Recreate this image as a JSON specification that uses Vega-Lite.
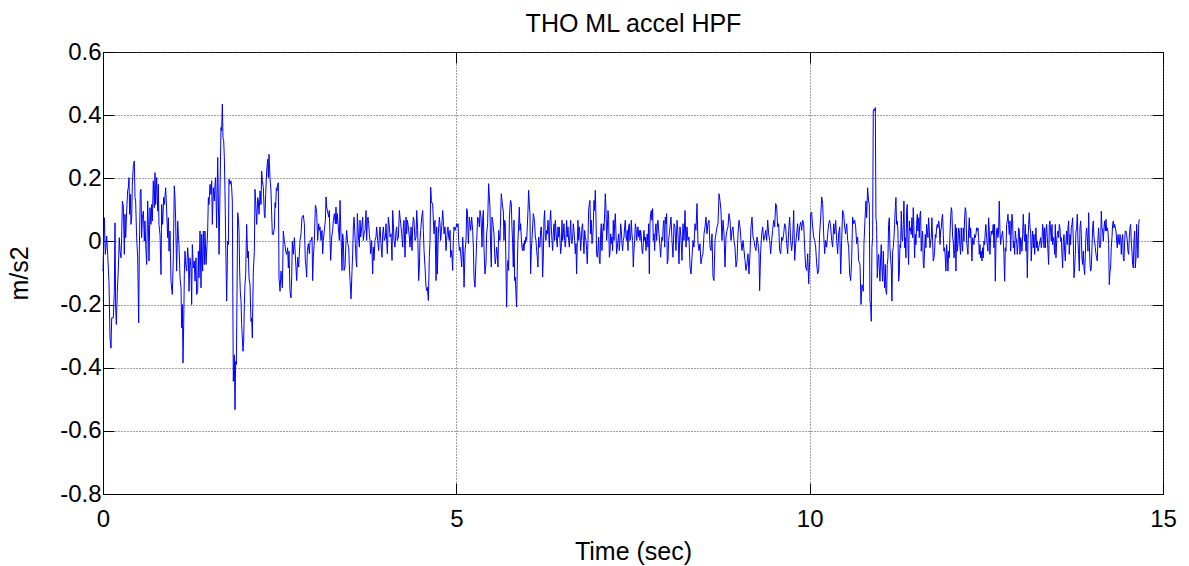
{
"$schema": "https://vega.github.io/schema/vega-lite/v6.json",
"autosize": {"type": "none"},
"padding": {"left": 103, "top": 52, "right": 26, "bottom": 72},
"width": 1060,
"height": 442,
"background": "white",
"config": {"view": {"stroke": "black", "strokeWidth": 1}, "font": "Liberation Sans"},
"data": {"values": [
{"t":0.000,"v":-0.094},{"t":0.019,"v":0.075},{"t":0.033,"v":-0.041},{"t":0.052,"v":0.017},{"t":0.066,"v":-0.041},{"t":0.085,"v":-0.131},{"t":0.099,"v":-0.306},{"t":0.113,"v":-0.338},{"t":0.123,"v":-0.242},{"t":0.146,"v":-0.242},{"t":0.160,"v":-0.158},{"t":0.170,"v":0.059},{"t":0.179,"v":-0.211},{"t":0.189,"v":-0.263},{"t":0.203,"v":-0.158},{"t":0.217,"v":-0.084},{"t":0.231,"v":0.012},{"t":0.241,"v":-0.031},{"t":0.255,"v":-0.052},{"t":0.264,"v":0.012},{"t":0.274,"v":0.128},{"t":0.288,"v":0.112},{"t":0.302,"v":-0.041},{"t":0.311,"v":0.086},{"t":0.321,"v":0.012},{"t":0.335,"v":0.096},{"t":0.349,"v":0.160},{"t":0.358,"v":0.170},{"t":0.368,"v":0.202},{"t":0.377,"v":0.086},{"t":0.387,"v":0.149},{"t":0.396,"v":0.054},{"t":0.406,"v":0.075},{"t":0.415,"v":0.181},{"t":0.429,"v":0.239},{"t":0.443,"v":0.255},{"t":0.453,"v":0.139},{"t":0.462,"v":0.128},{"t":0.476,"v":0.012},{"t":0.491,"v":-0.052},{"t":0.505,"v":-0.258},{"t":0.514,"v":-0.031},{"t":0.528,"v":0.160},{"t":0.538,"v":0.165},{"t":0.547,"v":0.012},{"t":0.557,"v":0.075},{"t":0.571,"v":0.096},{"t":0.585,"v":0.001},{"t":0.594,"v":0.065},{"t":0.604,"v":-0.010},{"t":0.618,"v":-0.073},{"t":0.632,"v":0.128},{"t":0.642,"v":0.054},{"t":0.651,"v":-0.062},{"t":0.665,"v":0.107},{"t":0.679,"v":0.054},{"t":0.689,"v":0.117},{"t":0.698,"v":0.065},{"t":0.712,"v":0.192},{"t":0.726,"v":0.107},{"t":0.736,"v":0.218},{"t":0.745,"v":0.117},{"t":0.759,"v":0.202},{"t":0.774,"v":0.096},{"t":0.783,"v":0.181},{"t":0.792,"v":0.054},{"t":0.807,"v":0.022},{"t":0.821,"v":-0.105},{"t":0.830,"v":0.117},{"t":0.844,"v":0.054},{"t":0.858,"v":0.139},{"t":0.868,"v":0.117},{"t":0.887,"v":0.170},{"t":0.901,"v":0.096},{"t":0.915,"v":0.012},{"t":0.925,"v":0.075},{"t":0.934,"v":-0.031},{"t":0.948,"v":0.033},{"t":0.962,"v":-0.126},{"t":0.981,"v":-0.168},{"t":0.995,"v":-0.052},{"t":1.009,"v":0.176},{"t":1.019,"v":0.139},{"t":1.028,"v":0.065},{"t":1.042,"v":-0.094},{"t":1.057,"v":0.065},{"t":1.066,"v":0.022},{"t":1.075,"v":-0.010},{"t":1.090,"v":-0.115},{"t":1.104,"v":-0.147},{"t":1.113,"v":-0.274},{"t":1.123,"v":-0.200},{"t":1.132,"v":-0.385},{"t":1.142,"v":-0.263},{"t":1.151,"v":-0.105},{"t":1.160,"v":-0.031},{"t":1.170,"v":-0.073},{"t":1.184,"v":-0.094},{"t":1.198,"v":-0.020},{"t":1.208,"v":-0.052},{"t":1.217,"v":-0.158},{"t":1.231,"v":-0.052},{"t":1.245,"v":-0.084},{"t":1.255,"v":-0.200},{"t":1.264,"v":-0.010},{"t":1.278,"v":-0.084},{"t":1.292,"v":-0.062},{"t":1.302,"v":-0.126},{"t":1.316,"v":-0.052},{"t":1.325,"v":-0.168},{"t":1.340,"v":-0.158},{"t":1.349,"v":-0.031},{"t":1.358,"v":-0.115},{"t":1.373,"v":0.033},{"t":1.387,"v":-0.147},{"t":1.396,"v":0.022},{"t":1.410,"v":-0.094},{"t":1.420,"v":0.033},{"t":1.434,"v":-0.073},{"t":1.443,"v":0.033},{"t":1.458,"v":-0.073},{"t":1.472,"v":-0.010},{"t":1.481,"v":0.033},{"t":1.491,"v":0.139},{"t":1.500,"v":0.117},{"t":1.514,"v":0.181},{"t":1.528,"v":0.149},{"t":1.538,"v":0.192},{"t":1.547,"v":0.054},{"t":1.561,"v":0.170},{"t":1.575,"v":0.128},{"t":1.585,"v":0.181},{"t":1.594,"v":0.202},{"t":1.608,"v":0.043},{"t":1.623,"v":0.266},{"t":1.632,"v":0.149},{"t":1.642,"v":-0.041},{"t":1.656,"v":0.160},{"t":1.670,"v":0.361},{"t":1.679,"v":0.350},{"t":1.689,"v":0.435},{"t":1.698,"v":0.329},{"t":1.708,"v":0.319},{"t":1.717,"v":0.266},{"t":1.726,"v":0.160},{"t":1.736,"v":0.001},{"t":1.750,"v":-0.189},{"t":1.764,"v":0.001},{"t":1.774,"v":-0.010},{"t":1.783,"v":0.197},{"t":1.797,"v":0.181},{"t":1.811,"v":0.192},{"t":1.821,"v":0.170},{"t":1.830,"v":0.128},{"t":1.844,"v":-0.443},{"t":1.858,"v":-0.359},{"t":1.868,"v":-0.533},{"t":1.877,"v":-0.380},{"t":1.887,"v":-0.390},{"t":1.896,"v":-0.179},{"t":1.906,"v":0.091},{"t":1.915,"v":0.075},{"t":1.925,"v":0.033},{"t":1.934,"v":-0.094},{"t":1.943,"v":-0.158},{"t":1.953,"v":-0.189},{"t":1.962,"v":-0.263},{"t":1.972,"v":-0.306},{"t":1.981,"v":-0.348},{"t":1.991,"v":-0.316},{"t":2.000,"v":-0.200},{"t":2.009,"v":-0.137},{"t":2.019,"v":-0.105},{"t":2.033,"v":0.054},{"t":2.047,"v":-0.052},{"t":2.057,"v":-0.031},{"t":2.066,"v":-0.115},{"t":2.080,"v":-0.137},{"t":2.094,"v":-0.253},{"t":2.104,"v":-0.242},{"t":2.113,"v":-0.306},{"t":2.127,"v":-0.094},{"t":2.142,"v":-0.031},{"t":2.151,"v":0.165},{"t":2.160,"v":0.128},{"t":2.175,"v":0.054},{"t":2.189,"v":0.139},{"t":2.198,"v":0.128},{"t":2.208,"v":0.086},{"t":2.222,"v":0.160},{"t":2.236,"v":0.117},{"t":2.245,"v":0.223},{"t":2.255,"v":0.192},{"t":2.269,"v":0.170},{"t":2.283,"v":0.086},{"t":2.292,"v":0.075},{"t":2.302,"v":0.149},{"t":2.316,"v":0.223},{"t":2.330,"v":0.260},{"t":2.340,"v":0.202},{"t":2.349,"v":0.276},{"t":2.363,"v":0.202},{"t":2.377,"v":0.160},{"t":2.387,"v":0.086},{"t":2.396,"v":0.022},{"t":2.410,"v":0.022},{"t":2.425,"v":0.043},{"t":2.434,"v":0.123},{"t":2.443,"v":0.107},{"t":2.453,"v":0.170},{"t":2.462,"v":0.160},{"t":2.472,"v":0.181},{"t":2.481,"v":0.186},{"t":2.491,"v":-0.115},{"t":2.505,"v":-0.158},{"t":2.519,"v":-0.094},{"t":2.528,"v":-0.115},{"t":2.538,"v":-0.147},{"t":2.552,"v":0.033},{"t":2.566,"v":0.001},{"t":2.575,"v":-0.010},{"t":2.585,"v":-0.031},{"t":2.599,"v":-0.041},{"t":2.613,"v":-0.020},{"t":2.623,"v":-0.084},{"t":2.632,"v":-0.031},{"t":2.646,"v":-0.158},{"t":2.660,"v":-0.179},{"t":2.670,"v":-0.115},{"t":2.679,"v":0.001},{"t":2.693,"v":-0.041},{"t":2.708,"v":0.012},
{"t":2.741,"v":-0.124},{"t":2.755,"v":-0.050},{"t":2.769,"v":-0.081},{"t":2.788,"v":0.003},{"t":2.802,"v":0.024},{"t":2.816,"v":0.077},{"t":2.835,"v":0.083},{"t":2.849,"v":0.056},{"t":2.863,"v":-0.060},{"t":2.873,"v":-0.081},{"t":2.882,"v":-0.113},{"t":2.892,"v":-0.029},{"t":2.906,"v":-0.007},{"t":2.920,"v":-0.039},{"t":2.930,"v":0.003},{"t":2.944,"v":0.003},{"t":2.958,"v":0.014},{"t":2.967,"v":-0.124},{"t":2.977,"v":-0.050},{"t":2.991,"v":0.003},{"t":3.005,"v":0.114},{"t":3.014,"v":0.109},{"t":3.024,"v":0.088},{"t":3.038,"v":0.003},{"t":3.052,"v":0.056},{"t":3.062,"v":0.035},{"t":3.071,"v":0.046},{"t":3.085,"v":0.003},{"t":3.099,"v":0.035},{"t":3.109,"v":-0.039},{"t":3.118,"v":0.003},{"t":3.132,"v":0.035},{"t":3.147,"v":0.067},{"t":3.156,"v":0.141},{"t":3.165,"v":0.109},{"t":3.180,"v":0.093},{"t":3.194,"v":0.077},{"t":3.203,"v":0.098},{"t":3.213,"v":0.003},{"t":3.222,"v":-0.060},{"t":3.236,"v":0.014},{"t":3.250,"v":0.035},{"t":3.260,"v":0.067},{"t":3.274,"v":0.088},{"t":3.288,"v":0.056},{"t":3.297,"v":0.109},{"t":3.307,"v":0.056},{"t":3.316,"v":0.088},{"t":3.330,"v":0.046},{"t":3.345,"v":0.003},{"t":3.354,"v":0.130},{"t":3.363,"v":0.056},{"t":3.373,"v":-0.018},{"t":3.382,"v":-0.092},{"t":3.392,"v":0.024},{"t":3.401,"v":0.003},{"t":3.411,"v":-0.092},{"t":3.425,"v":-0.081},{"t":3.439,"v":0.003},{"t":3.448,"v":0.035},{"t":3.463,"v":-0.007},{"t":3.477,"v":-0.018},{"t":3.486,"v":-0.081},{"t":3.496,"v":-0.124},{"t":3.510,"v":-0.182},{"t":3.524,"v":-0.092},{"t":3.533,"v":-0.039},{"t":3.543,"v":0.046},{"t":3.552,"v":0.077},{"t":3.562,"v":0.035},{"t":3.571,"v":-0.007},{"t":3.581,"v":-0.060},{"t":3.590,"v":-0.081},{"t":3.599,"v":0.088},{"t":3.609,"v":0.046},{"t":3.618,"v":0.003},{"t":3.628,"v":-0.018},{"t":3.637,"v":0.067},{"t":3.647,"v":0.014},{"t":3.661,"v":0.046},{"t":3.675,"v":0.077},{"t":3.684,"v":0.003},{"t":3.694,"v":0.024},{"t":3.708,"v":0.035},{"t":3.722,"v":0.098},{"t":3.731,"v":0.003},{"t":3.741,"v":0.067},{"t":3.750,"v":0.077},{"t":3.760,"v":0.056},{"t":3.769,"v":0.024},{"t":3.778,"v":0.003},{"t":3.788,"v":-0.039},{"t":3.802,"v":0.003},{"t":3.816,"v":-0.103},{"t":3.826,"v":-0.018},{"t":3.835,"v":-0.060},{"t":3.849,"v":0.003},{"t":3.863,"v":0.014},{"t":3.873,"v":0.046},{"t":3.887,"v":0.003},{"t":3.901,"v":-0.029},{"t":3.911,"v":0.024},{"t":3.920,"v":0.046},{"t":3.934,"v":-0.007},{"t":3.948,"v":-0.050},{"t":3.958,"v":0.024},{"t":3.967,"v":0.046},{"t":3.981,"v":0.003},{"t":3.996,"v":0.014},{"t":4.005,"v":0.056},{"t":4.014,"v":0.003},{"t":4.024,"v":-0.039},{"t":4.038,"v":0.077},{"t":4.052,"v":0.046},{"t":4.062,"v":0.014},{"t":4.076,"v":0.024},{"t":4.090,"v":-0.060},{"t":4.099,"v":0.098},{"t":4.109,"v":0.056},{"t":4.118,"v":0.003},{"t":4.132,"v":-0.018},{"t":4.147,"v":0.035},{"t":4.156,"v":0.046},{"t":4.165,"v":0.003},{"t":4.180,"v":0.014},{"t":4.194,"v":0.098},{"t":4.203,"v":0.077},{"t":4.213,"v":0.056},{"t":4.227,"v":0.024},{"t":4.241,"v":-0.018},{"t":4.250,"v":0.046},{"t":4.260,"v":0.067},{"t":4.274,"v":-0.050},{"t":4.288,"v":0.077},{"t":4.297,"v":0.024},{"t":4.307,"v":0.067},{"t":4.321,"v":0.046},{"t":4.335,"v":0.014},{"t":4.345,"v":-0.018},{"t":4.359,"v":0.046},{"t":4.373,"v":-0.029},{"t":4.382,"v":0.046},{"t":4.392,"v":0.077},{"t":4.401,"v":0.067},{"t":4.415,"v":0.003},{"t":4.430,"v":0.014},{"t":4.439,"v":0.098},{"t":4.453,"v":0.035},{"t":4.467,"v":-0.124},{"t":4.477,"v":-0.081},{"t":4.486,"v":0.003},{"t":4.496,"v":0.035},{"t":4.510,"v":0.077},{"t":4.524,"v":0.098},{"t":4.533,"v":0.035},{"t":4.543,"v":-0.029},{"t":4.557,"v":-0.081},{"t":4.571,"v":-0.145},{"t":4.581,"v":-0.156},{"t":4.590,"v":-0.145},{"t":4.604,"v":-0.187},{"t":4.618,"v":-0.050},{"t":4.628,"v":0.003},{"t":4.637,"v":0.172},{"t":4.647,"v":0.130},{"t":4.656,"v":0.120},{"t":4.665,"v":0.120},{"t":4.675,"v":0.067},{"t":4.684,"v":0.024},{"t":4.698,"v":0.067},{"t":4.713,"v":-0.124},{"t":4.722,"v":0.046},{"t":4.731,"v":-0.103},{"t":4.745,"v":0.024},{"t":4.760,"v":0.077},{"t":4.769,"v":0.056},{"t":4.778,"v":0.003},{"t":4.793,"v":0.046},{"t":4.807,"v":0.098},{"t":4.816,"v":0.067},{"t":4.826,"v":0.024},{"t":4.840,"v":0.046},{"t":4.854,"v":-0.029},{"t":4.863,"v":0.003},{"t":4.873,"v":0.035},{"t":4.882,"v":0.046},{"t":4.892,"v":0.014},{"t":4.901,"v":0.003},{"t":4.911,"v":0.035},{"t":4.920,"v":-0.050},{"t":4.934,"v":-0.029},{"t":4.948,"v":-0.092},{"t":4.958,"v":0.003},{"t":4.967,"v":0.046},{"t":4.981,"v":0.035},{"t":4.996,"v":0.046},{"t":5.005,"v":0.056},{"t":5.014,"v":0.046},{"t":5.024,"v":0.056},{"t":5.033,"v":0.003},{"t":5.043,"v":-0.029},{"t":5.052,"v":-0.018},{"t":5.062,"v":-0.039},{"t":5.076,"v":-0.081},{"t":5.090,"v":0.014},{"t":5.099,"v":-0.029},{"t":5.109,"v":-0.145},{"t":5.123,"v":-0.029},{"t":5.137,"v":0.003},{"t":5.147,"v":0.104},{"t":5.156,"v":0.098},{"t":5.170,"v":-0.007},{"t":5.184,"v":0.077},{"t":5.194,"v":0.056},{"t":5.203,"v":0.035},{"t":5.217,"v":0.077},{"t":5.231,"v":0.035},{"t":5.241,"v":-0.018},{"t":5.250,"v":-0.113},{"t":5.264,"v":-0.145},{"t":5.278,"v":-0.060},{"t":5.288,"v":0.003},{"t":5.302,"v":0.077},{"t":5.316,"v":0.067},{"t":5.326,"v":0.046},
{"t":5.335,"v":0.098},{"t":5.349,"v":0.077},{"t":5.363,"v":-0.018},{"t":5.372,"v":0.067},{"t":5.382,"v":0.098},{"t":5.391,"v":-0.018},{"t":5.405,"v":-0.103},{"t":5.419,"v":-0.071},{"t":5.429,"v":0.024},{"t":5.443,"v":0.056},{"t":5.457,"v":0.183},{"t":5.467,"v":0.141},{"t":5.476,"v":0.109},{"t":5.485,"v":-0.018},{"t":5.495,"v":-0.081},{"t":5.504,"v":0.077},{"t":5.514,"v":0.067},{"t":5.523,"v":0.046},{"t":5.533,"v":0.024},{"t":5.542,"v":-0.039},{"t":5.551,"v":-0.071},{"t":5.561,"v":-0.050},{"t":5.570,"v":-0.018},{"t":5.580,"v":-0.039},{"t":5.589,"v":-0.081},{"t":5.599,"v":0.035},{"t":5.608,"v":0.014},{"t":5.618,"v":0.003},{"t":5.627,"v":0.077},{"t":5.636,"v":0.151},{"t":5.646,"v":0.130},{"t":5.655,"v":0.109},{"t":5.665,"v":0.098},{"t":5.674,"v":0.003},{"t":5.684,"v":0.067},{"t":5.693,"v":0.056},{"t":5.702,"v":-0.081},{"t":5.712,"v":-0.208},{"t":5.721,"v":-0.081},{"t":5.731,"v":-0.060},{"t":5.740,"v":-0.092},{"t":5.750,"v":0.067},{"t":5.759,"v":0.109},{"t":5.768,"v":0.130},{"t":5.778,"v":0.120},{"t":5.787,"v":0.046},{"t":5.797,"v":-0.007},{"t":5.806,"v":-0.081},{"t":5.816,"v":0.067},{"t":5.825,"v":-0.124},{"t":5.835,"v":-0.113},{"t":5.844,"v":-0.166},{"t":5.853,"v":-0.208},{"t":5.863,"v":-0.081},{"t":5.872,"v":0.003},{"t":5.882,"v":0.056},{"t":5.891,"v":0.109},{"t":5.901,"v":0.035},{"t":5.910,"v":0.056},{"t":5.919,"v":0.014},{"t":5.929,"v":-0.018},{"t":5.938,"v":-0.029},{"t":5.948,"v":-0.007},{"t":5.957,"v":-0.029},{"t":5.967,"v":0.003},{"t":5.976,"v":-0.007},{"t":5.985,"v":0.014},{"t":5.995,"v":0.003},{"t":6.004,"v":0.046},{"t":6.014,"v":0.098},{"t":6.023,"v":0.162},{"t":6.033,"v":0.120},{"t":6.042,"v":0.088},{"t":6.051,"v":-0.103},{"t":6.061,"v":-0.029},{"t":6.070,"v":0.003},{"t":6.080,"v":0.046},{"t":6.089,"v":0.088},{"t":6.099,"v":0.077},{"t":6.108,"v":0.056},{"t":6.118,"v":0.014},{"t":6.127,"v":0.003},{"t":6.136,"v":-0.029},{"t":6.146,"v":-0.050},{"t":6.155,"v":-0.081},{"t":6.165,"v":0.014},{"t":6.174,"v":-0.018},{"t":6.184,"v":-0.018},{"t":6.193,"v":0.035},{"t":6.202,"v":0.046},{"t":6.212,"v":0.003},{"t":6.221,"v":-0.113},{"t":6.231,"v":-0.050},{"t":6.240,"v":0.067},{"t":6.250,"v":0.098},{"t":6.259,"v":0.014},{"t":6.268,"v":0.003},{"t":6.278,"v":0.035},{"t":6.287,"v":0.024},{"t":6.297,"v":0.067},{"t":6.306,"v":0.035},{"t":6.316,"v":-0.018},{"t":6.325,"v":0.067},{"t":6.335,"v":0.098},{"t":6.344,"v":0.046},{"t":6.353,"v":0.003},{"t":6.363,"v":-0.029},{"t":6.372,"v":0.024},{"t":6.382,"v":0.056},{"t":6.391,"v":0.003},{"t":6.401,"v":0.067},{"t":6.410,"v":0.035},{"t":6.419,"v":0.003},{"t":6.429,"v":-0.018},{"t":6.438,"v":0.046},{"t":6.448,"v":0.014},{"t":6.457,"v":0.046},{"t":6.467,"v":0.003},{"t":6.476,"v":-0.039},{"t":6.485,"v":-0.018},{"t":6.495,"v":0.067},{"t":6.504,"v":0.003},{"t":6.514,"v":0.024},{"t":6.523,"v":0.056},{"t":6.533,"v":0.003},{"t":6.542,"v":-0.018},{"t":6.552,"v":0.014},{"t":6.561,"v":0.067},{"t":6.570,"v":0.014},{"t":6.580,"v":0.046},{"t":6.589,"v":0.003},{"t":6.599,"v":-0.018},{"t":6.608,"v":0.024},{"t":6.618,"v":0.067},{"t":6.627,"v":0.003},{"t":6.636,"v":-0.007},{"t":6.646,"v":0.014},{"t":6.655,"v":0.056},{"t":6.665,"v":0.035},{"t":6.674,"v":0.003},{"t":6.684,"v":-0.039},{"t":6.693,"v":-0.007},{"t":6.702,"v":-0.103},{"t":6.712,"v":0.003},{"t":6.721,"v":0.067},{"t":6.731,"v":0.003},{"t":6.740,"v":0.046},{"t":6.750,"v":0.024},{"t":6.759,"v":-0.029},{"t":6.768,"v":0.003},{"t":6.778,"v":0.046},{"t":6.787,"v":0.056},{"t":6.797,"v":0.003},{"t":6.806,"v":-0.039},{"t":6.816,"v":0.035},{"t":6.825,"v":0.014},{"t":6.835,"v":0.003},{"t":6.844,"v":-0.029},{"t":6.853,"v":-0.071},{"t":6.863,"v":0.003},{"t":6.872,"v":0.098},{"t":6.882,"v":0.120},{"t":6.891,"v":0.130},{"t":6.901,"v":0.024},{"t":6.910,"v":0.067},{"t":6.919,"v":-0.007},{"t":6.929,"v":0.003},{"t":6.938,"v":0.056},{"t":6.948,"v":0.130},{"t":6.957,"v":0.098},{"t":6.967,"v":0.162},{"t":6.976,"v":0.077},{"t":6.985,"v":-0.039},{"t":6.995,"v":-0.050},{"t":7.004,"v":-0.029},{"t":7.014,"v":0.014},{"t":7.023,"v":-0.060},{"t":7.033,"v":-0.071},{"t":7.042,"v":0.024},{"t":7.051,"v":0.056},{"t":7.061,"v":-0.029},{"t":7.070,"v":0.024},{"t":7.080,"v":0.056},{"t":7.089,"v":0.035},{"t":7.099,"v":0.088},{"t":7.108,"v":0.151},{"t":7.117,"v":0.109},{"t":7.127,"v":0.003},{"t":7.136,"v":0.035},{"t":7.146,"v":0.098},{"t":7.155,"v":0.077},{"t":7.165,"v":-0.050},{"t":7.174,"v":-0.039},{"t":7.184,"v":0.024},{"t":7.193,"v":-0.007},{"t":7.202,"v":0.014},{"t":7.212,"v":-0.029},{"t":7.221,"v":0.067},{"t":7.231,"v":0.003},{"t":7.240,"v":0.056},{"t":7.250,"v":0.088},{"t":7.259,"v":0.024},{"t":7.268,"v":-0.039},{"t":7.278,"v":-0.018},{"t":7.287,"v":0.003},{"t":7.297,"v":0.024},{"t":7.306,"v":-0.029},{"t":7.316,"v":0.003},{"t":7.325,"v":0.056},{"t":7.335,"v":0.035},{"t":7.344,"v":-0.007},{"t":7.353,"v":-0.029},{"t":7.363,"v":0.003},{"t":7.372,"v":0.014},{"t":7.382,"v":0.046},{"t":7.391,"v":0.067},{"t":7.401,"v":0.014},{"t":7.410,"v":0.003},{"t":7.419,"v":0.035},{"t":7.429,"v":-0.029},{"t":7.438,"v":0.046},{"t":7.448,"v":0.056},{"t":7.457,"v":0.003},{"t":7.467,"v":0.014},{"t":7.476,"v":0.067},{"t":7.485,"v":0.024},{"t":7.495,"v":0.003},{"t":7.504,"v":-0.081},{"t":7.514,"v":-0.029},{"t":7.523,"v":0.003},{"t":7.533,"v":0.056},{"t":7.542,"v":0.046},{"t":7.552,"v":0.003},{"t":7.561,"v":0.024},{"t":7.570,"v":0.046},{"t":7.580,"v":0.014},{"t":7.589,"v":0.035},{"t":7.599,"v":0.003},{"t":7.608,"v":0.035},{"t":7.618,"v":0.014},{"t":7.627,"v":-0.029},{"t":7.636,"v":-0.039},{"t":7.646,"v":-0.007},{"t":7.655,"v":0.035},{"t":7.665,"v":0.003},{"t":7.674,"v":0.014},{"t":7.684,"v":-0.029},{"t":7.693,"v":0.003},{"t":7.702,"v":0.024},{"t":7.712,"v":-0.018},{"t":7.721,"v":0.056},{"t":7.731,"v":-0.103},{"t":7.740,"v":0.056},{"t":7.750,"v":0.088},{"t":7.759,"v":0.098},{"t":7.768,"v":0.067},{"t":7.778,"v":0.104},{"t":7.787,"v":0.003},{"t":7.797,"v":0.024},{"t":7.806,"v":-0.029},{"t":7.816,"v":0.035},{"t":7.825,"v":0.056},{"t":7.835,"v":0.003},{"t":7.844,"v":0.046},{"t":7.853,"v":0.067},{"t":7.863,"v":0.035},{"t":7.872,"v":0.014},{"t":7.882,"v":-0.018},{"t":7.891,"v":-0.050},{"t":7.901,"v":-0.007},{"t":7.910,"v":0.014},{"t":7.919,"v":0.003},{"t":7.929,"v":0.056},{"t":7.938,"v":0.067},{"t":7.948,"v":-0.018},{"t":7.957,"v":0.077},{"t":7.967,"v":0.056},{"t":7.976,"v":0.088},{"t":7.985,"v":-0.071},{"t":7.995,"v":-0.060},{"t":8.004,"v":0.003},{"t":8.014,"v":0.024},
{"t":8.024,"v":0.046},{"t":8.038,"v":0.077},{"t":8.052,"v":0.003},{"t":8.066,"v":-0.050},{"t":8.080,"v":0.056},{"t":8.094,"v":0.046},{"t":8.108,"v":-0.029},{"t":8.123,"v":0.067},{"t":8.137,"v":0.024},{"t":8.151,"v":-0.071},{"t":8.165,"v":0.046},{"t":8.179,"v":0.014},{"t":8.193,"v":-0.060},{"t":8.207,"v":0.056},{"t":8.222,"v":0.003},{"t":8.236,"v":0.098},{"t":8.250,"v":-0.018},{"t":8.264,"v":0.046},{"t":8.278,"v":0.003},{"t":8.292,"v":0.014},{"t":8.307,"v":-0.081},{"t":8.321,"v":-0.103},{"t":8.335,"v":-0.050},{"t":8.349,"v":0.003},{"t":8.363,"v":-0.018},{"t":8.377,"v":0.056},{"t":8.391,"v":0.035},{"t":8.406,"v":0.120},{"t":8.420,"v":-0.007},{"t":8.434,"v":-0.029},{"t":8.448,"v":-0.007},{"t":8.462,"v":-0.071},{"t":8.476,"v":-0.050},{"t":8.490,"v":-0.039},{"t":8.505,"v":0.024},{"t":8.519,"v":0.046},{"t":8.533,"v":0.077},{"t":8.547,"v":0.024},{"t":8.561,"v":0.056},{"t":8.575,"v":0.067},{"t":8.590,"v":-0.018},{"t":8.604,"v":-0.029},{"t":8.618,"v":0.024},{"t":8.632,"v":-0.113},{"t":8.646,"v":-0.124},{"t":8.660,"v":0.003},{"t":8.674,"v":0.024},{"t":8.689,"v":0.046},{"t":8.703,"v":0.056},{"t":8.717,"v":0.151},{"t":8.731,"v":0.130},{"t":8.745,"v":0.098},{"t":8.759,"v":0.003},{"t":8.774,"v":0.067},{"t":8.788,"v":0.024},{"t":8.802,"v":-0.081},{"t":8.816,"v":0.014},{"t":8.830,"v":0.035},{"t":8.844,"v":0.046},{"t":8.858,"v":0.088},{"t":8.873,"v":0.067},{"t":8.887,"v":0.003},{"t":8.901,"v":0.035},{"t":8.915,"v":0.046},{"t":8.929,"v":0.003},{"t":8.943,"v":-0.018},{"t":8.958,"v":-0.081},{"t":8.972,"v":-0.060},{"t":8.986,"v":0.024},{"t":9.000,"v":0.067},{"t":9.014,"v":0.046},{"t":9.028,"v":0.003},{"t":9.042,"v":-0.029},{"t":9.057,"v":0.003},{"t":9.071,"v":-0.029},{"t":9.085,"v":-0.060},{"t":9.099,"v":-0.092},{"t":9.113,"v":-0.071},{"t":9.127,"v":-0.039},{"t":9.141,"v":-0.103},{"t":9.156,"v":-0.039},{"t":9.170,"v":0.046},{"t":9.184,"v":0.077},{"t":9.198,"v":0.014},{"t":9.212,"v":0.003},{"t":9.226,"v":-0.018},{"t":9.240,"v":-0.029},{"t":9.255,"v":0.014},{"t":9.269,"v":-0.007},{"t":9.283,"v":-0.039},{"t":9.292,"v":-0.156},{"t":9.307,"v":-0.029},{"t":9.321,"v":0.024},{"t":9.335,"v":0.046},{"t":9.349,"v":0.003},{"t":9.363,"v":0.014},{"t":9.377,"v":0.035},{"t":9.391,"v":0.003},{"t":9.406,"v":0.067},{"t":9.420,"v":0.024},{"t":9.434,"v":0.003},{"t":9.448,"v":-0.039},{"t":9.462,"v":0.003},{"t":9.476,"v":0.035},{"t":9.491,"v":0.067},{"t":9.505,"v":0.046},{"t":9.519,"v":0.120},{"t":9.533,"v":0.109},{"t":9.547,"v":0.046},{"t":9.561,"v":0.056},{"t":9.575,"v":-0.029},{"t":9.590,"v":-0.039},{"t":9.604,"v":0.014},{"t":9.618,"v":0.003},{"t":9.632,"v":0.024},{"t":9.646,"v":0.056},{"t":9.660,"v":0.046},{"t":9.675,"v":-0.007},{"t":9.689,"v":-0.039},{"t":9.703,"v":0.035},{"t":9.717,"v":0.077},{"t":9.731,"v":0.003},{"t":9.745,"v":-0.029},{"t":9.759,"v":0.003},{"t":9.774,"v":0.098},{"t":9.788,"v":-0.060},{"t":9.802,"v":-0.007},{"t":9.816,"v":0.024},{"t":9.830,"v":0.056},{"t":9.844,"v":0.003},{"t":9.858,"v":0.046},{"t":9.873,"v":0.061},{"t":9.887,"v":0.035},{"t":9.901,"v":0.067},{"t":9.915,"v":0.056},{"t":9.929,"v":-0.018},{"t":9.943,"v":-0.081},{"t":9.958,"v":-0.092},{"t":9.972,"v":-0.039},{"t":9.986,"v":-0.134},{"t":10.000,"v":-0.060},{"t":10.014,"v":0.088},{"t":10.028,"v":0.093},{"t":10.042,"v":0.046},{"t":10.057,"v":0.014},{"t":10.071,"v":0.003},{"t":10.085,"v":-0.018},{"t":10.099,"v":-0.071},{"t":10.113,"v":-0.103},{"t":10.127,"v":-0.092},{"t":10.141,"v":0.024},{"t":10.156,"v":0.077},{"t":10.170,"v":0.141},{"t":10.184,"v":0.120},{"t":10.198,"v":0.024},{"t":10.212,"v":-0.039},{"t":10.226,"v":0.003},{"t":10.241,"v":-0.018},{"t":10.255,"v":0.024},{"t":10.269,"v":0.056},{"t":10.283,"v":0.067},{"t":10.297,"v":0.046},{"t":10.311,"v":0.003},{"t":10.325,"v":-0.018},{"t":10.340,"v":0.056},{"t":10.354,"v":0.024},{"t":10.368,"v":0.067},{"t":10.382,"v":0.003},{"t":10.396,"v":-0.039},{"t":10.410,"v":0.024},{"t":10.425,"v":0.046},{"t":10.439,"v":-0.103},{"t":10.453,"v":0.003},{"t":10.467,"v":0.098},{"t":10.481,"v":0.088},{"t":10.495,"v":0.046},{"t":10.509,"v":0.024},{"t":10.524,"v":0.056},{"t":10.538,"v":0.003},{"t":10.552,"v":-0.018},{"t":10.566,"v":-0.103},{"t":10.580,"v":-0.124},{"t":10.594,"v":-0.060},{"t":10.608,"v":0.077},{"t":10.623,"v":0.056},{"t":10.637,"v":0.067},{"t":10.651,"v":0.046},{"t":10.665,"v":-0.007},{"t":10.679,"v":0.014},{"t":10.693,"v":-0.060},{"t":10.708,"v":-0.071},
{"t":10.712,"v":-0.073},{"t":10.726,"v":-0.200},{"t":10.740,"v":-0.137},{"t":10.759,"v":-0.158},{"t":10.768,"v":-0.010},{"t":10.782,"v":0.065},{"t":10.796,"v":0.128},{"t":10.806,"v":0.075},{"t":10.820,"v":0.170},{"t":10.834,"v":0.128},{"t":10.844,"v":0.117},{"t":10.853,"v":-0.189},{"t":10.862,"v":-0.200},{"t":10.872,"v":-0.253},{"t":10.881,"v":-0.020},{"t":10.891,"v":0.012},{"t":10.900,"v":0.414},{"t":10.910,"v":0.419},{"t":10.919,"v":0.414},{"t":10.929,"v":0.424},{"t":10.938,"v":0.075},{"t":10.947,"v":0.054},{"t":10.957,"v":-0.115},{"t":10.966,"v":-0.062},{"t":10.976,"v":-0.041},{"t":10.985,"v":-0.084},{"t":10.995,"v":-0.126},{"t":11.004,"v":-0.052},{"t":11.013,"v":-0.010},{"t":11.023,"v":-0.084},{"t":11.032,"v":-0.126},{"t":11.042,"v":-0.031},{"t":11.051,"v":-0.094},{"t":11.061,"v":-0.147},{"t":11.070,"v":-0.073},{"t":11.079,"v":-0.158},{"t":11.089,"v":-0.168},{"t":11.098,"v":-0.073},{"t":11.108,"v":-0.052},{"t":11.117,"v":0.054},{"t":11.127,"v":0.075},{"t":11.136,"v":-0.020},{"t":11.145,"v":-0.052},{"t":11.155,"v":-0.084},{"t":11.164,"v":-0.189},{"t":11.174,"v":-0.031},{"t":11.183,"v":-0.020},{"t":11.193,"v":0.012},{"t":11.202,"v":0.054},{"t":11.212,"v":0.107},{"t":11.221,"v":0.139},{"t":11.230,"v":0.054},{"t":11.240,"v":0.065},{"t":11.249,"v":0.033},{"t":11.259,"v":-0.126},{"t":11.268,"v":-0.105},{"t":11.278,"v":-0.010},{"t":11.287,"v":-0.020},{"t":11.296,"v":0.096},{"t":11.306,"v":0.012},{"t":11.315,"v":0.001},{"t":11.325,"v":0.054},{"t":11.334,"v":0.128},{"t":11.344,"v":-0.020},{"t":11.353,"v":0.012},{"t":11.362,"v":-0.052},{"t":11.372,"v":0.096},{"t":11.381,"v":0.117},{"t":11.391,"v":-0.010},{"t":11.400,"v":-0.073},{"t":11.410,"v":0.065},{"t":11.419,"v":0.033},{"t":11.428,"v":0.043},{"t":11.438,"v":0.022},{"t":11.447,"v":0.075},{"t":11.457,"v":0.012},{"t":11.466,"v":0.107},{"t":11.476,"v":0.033},{"t":11.485,"v":-0.052},{"t":11.495,"v":0.022},{"t":11.504,"v":-0.010},{"t":11.513,"v":0.054},{"t":11.523,"v":0.086},{"t":11.532,"v":0.033},{"t":11.542,"v":0.075},{"t":11.551,"v":0.012},{"t":11.561,"v":0.086},{"t":11.570,"v":0.096},{"t":11.579,"v":-0.031},{"t":11.589,"v":0.012},{"t":11.598,"v":0.033},{"t":11.608,"v":-0.073},{"t":11.617,"v":-0.084},{"t":11.627,"v":-0.020},{"t":11.636,"v":0.022},{"t":11.645,"v":-0.020},{"t":11.655,"v":0.054},{"t":11.664,"v":0.033},{"t":11.674,"v":0.012},{"t":11.683,"v":0.075},{"t":11.693,"v":0.033},{"t":11.702,"v":-0.020},{"t":11.712,"v":0.001},{"t":11.721,"v":0.012},{"t":11.730,"v":0.075},{"t":11.740,"v":0.001},{"t":11.749,"v":-0.062},{"t":11.759,"v":-0.052},{"t":11.768,"v":-0.031},{"t":11.778,"v":0.022},{"t":11.787,"v":0.012},{"t":11.796,"v":0.043},{"t":11.806,"v":0.054},{"t":11.815,"v":0.043},{"t":11.825,"v":0.065},{"t":11.834,"v":0.054},{"t":11.844,"v":-0.010},{"t":11.853,"v":0.033},{"t":11.862,"v":0.043},{"t":11.872,"v":0.075},{"t":11.881,"v":0.086},{"t":11.891,"v":0.022},{"t":11.900,"v":-0.031},{"t":11.910,"v":-0.020},{"t":11.919,"v":-0.052},{"t":11.928,"v":-0.094},{"t":11.938,"v":-0.010},{"t":11.947,"v":-0.041},{"t":11.957,"v":-0.094},{"t":11.966,"v":-0.031},{"t":11.976,"v":-0.052},{"t":11.985,"v":0.022},{"t":11.995,"v":0.075},{"t":12.004,"v":0.107},{"t":12.013,"v":0.096},{"t":12.023,"v":0.012},{"t":12.032,"v":0.001},{"t":12.042,"v":-0.052},{"t":12.051,"v":-0.041},{"t":12.061,"v":0.054},{"t":12.070,"v":-0.094},{"t":12.079,"v":0.043},{"t":12.089,"v":-0.031},{"t":12.098,"v":-0.010},{"t":12.108,"v":0.043},{"t":12.117,"v":0.033},{"t":12.127,"v":-0.020},{"t":12.136,"v":-0.041},{"t":12.145,"v":0.043},{"t":12.155,"v":-0.010},{"t":12.164,"v":-0.031},{"t":12.174,"v":0.043},{"t":12.183,"v":0.001},{"t":12.193,"v":0.075},{"t":12.202,"v":0.107},{"t":12.212,"v":0.096},{"t":12.221,"v":0.001},{"t":12.230,"v":-0.020},{"t":12.240,"v":-0.041},{"t":12.249,"v":0.033},{"t":12.259,"v":0.075},{"t":12.268,"v":0.012},{"t":12.278,"v":0.043},{"t":12.287,"v":0.001},{"t":12.296,"v":-0.062},{"t":12.306,"v":0.012},{"t":12.315,"v":0.001},{"t":12.325,"v":-0.010},{"t":12.334,"v":0.022},{"t":12.344,"v":0.012},{"t":12.353,"v":0.022},{"t":12.362,"v":0.043},{"t":12.372,"v":0.033},{"t":12.381,"v":0.043},{"t":12.391,"v":0.012},{"t":12.400,"v":-0.041},{"t":12.410,"v":-0.010},{"t":12.419,"v":-0.052},{"t":12.428,"v":-0.031},{"t":12.438,"v":-0.062},{"t":12.447,"v":-0.020},{"t":12.457,"v":-0.052},{"t":12.466,"v":0.001},{"t":12.476,"v":-0.010},{"t":12.485,"v":0.033},{"t":12.494,"v":0.054},{"t":12.504,"v":0.012},{"t":12.513,"v":-0.010},{"t":12.523,"v":-0.031},{"t":12.532,"v":0.075},{"t":12.542,"v":0.033},{"t":12.551,"v":-0.041},{"t":12.561,"v":0.012},{"t":12.570,"v":0.033},{"t":12.579,"v":0.022},{"t":12.589,"v":0.033},{"t":12.598,"v":0.054},{"t":12.608,"v":-0.020},{"t":12.617,"v":0.054},{"t":12.627,"v":-0.126},{"t":12.636,"v":-0.010},{"t":12.645,"v":0.033},{"t":12.655,"v":0.043},{"t":12.664,"v":0.012},{"t":12.674,"v":0.033},{"t":12.683,"v":0.128},{"t":12.693,"v":0.033},{"t":12.702,"v":-0.010},{"t":12.712,"v":0.012},{"t":12.721,"v":0.022},{"t":12.730,"v":0.033},{"t":12.740,"v":0.001},{"t":12.749,"v":-0.041},{"t":12.759,"v":-0.126},{"t":12.768,"v":-0.020},{"t":12.778,"v":-0.031},{"t":12.787,"v":0.054},{"t":12.796,"v":0.065},{"t":12.806,"v":0.086},{"t":12.815,"v":0.054},{"t":12.825,"v":0.022},
{"t":12.835,"v":0.065},{"t":12.844,"v":-0.031},{"t":12.853,"v":0.033},{"t":12.863,"v":0.086},{"t":12.872,"v":0.065},{"t":12.882,"v":-0.020},{"t":12.891,"v":0.001},{"t":12.901,"v":-0.041},{"t":12.910,"v":0.033},{"t":12.919,"v":0.012},{"t":12.929,"v":0.001},{"t":12.938,"v":-0.041},{"t":12.948,"v":-0.010},{"t":12.957,"v":0.043},{"t":12.967,"v":0.033},{"t":12.976,"v":-0.041},{"t":12.985,"v":0.012},{"t":12.995,"v":0.001},{"t":13.004,"v":-0.031},{"t":13.014,"v":0.022},{"t":13.023,"v":0.086},{"t":13.033,"v":0.022},{"t":13.042,"v":0.001},{"t":13.051,"v":0.054},{"t":13.061,"v":-0.031},{"t":13.070,"v":0.022},{"t":13.080,"v":-0.115},{"t":13.089,"v":0.001},{"t":13.099,"v":0.054},{"t":13.108,"v":0.091},{"t":13.118,"v":0.043},{"t":13.127,"v":0.033},{"t":13.136,"v":-0.062},{"t":13.146,"v":0.001},{"t":13.155,"v":0.033},{"t":13.165,"v":-0.020},{"t":13.174,"v":0.022},{"t":13.184,"v":-0.041},{"t":13.193,"v":0.001},{"t":13.202,"v":0.043},{"t":13.212,"v":-0.020},{"t":13.221,"v":0.001},{"t":13.231,"v":-0.031},{"t":13.240,"v":-0.020},{"t":13.250,"v":-0.010},{"t":13.259,"v":0.001},{"t":13.268,"v":0.012},{"t":13.278,"v":-0.020},{"t":13.287,"v":0.001},{"t":13.297,"v":0.054},{"t":13.306,"v":0.033},{"t":13.316,"v":-0.020},{"t":13.325,"v":0.043},{"t":13.335,"v":-0.020},{"t":13.344,"v":0.033},{"t":13.353,"v":0.054},{"t":13.363,"v":0.012},{"t":13.372,"v":-0.031},{"t":13.382,"v":-0.073},{"t":13.391,"v":0.054},{"t":13.400,"v":0.065},{"t":13.410,"v":0.033},{"t":13.419,"v":0.001},{"t":13.429,"v":0.054},{"t":13.438,"v":-0.010},{"t":13.448,"v":0.012},{"t":13.457,"v":0.001},{"t":13.466,"v":-0.041},{"t":13.476,"v":0.054},{"t":13.485,"v":-0.052},{"t":13.495,"v":0.001},{"t":13.504,"v":0.022},{"t":13.514,"v":0.033},{"t":13.523,"v":0.012},{"t":13.533,"v":0.054},{"t":13.542,"v":0.043},{"t":13.551,"v":0.001},{"t":13.561,"v":0.012},{"t":13.570,"v":-0.041},{"t":13.580,"v":-0.084},{"t":13.589,"v":0.001},{"t":13.599,"v":0.022},{"t":13.608,"v":-0.031},{"t":13.618,"v":-0.062},{"t":13.627,"v":0.001},{"t":13.636,"v":0.033},{"t":13.646,"v":-0.010},{"t":13.655,"v":0.043},{"t":13.665,"v":0.065},{"t":13.674,"v":-0.041},{"t":13.684,"v":0.022},{"t":13.693,"v":-0.010},{"t":13.702,"v":0.043},{"t":13.712,"v":0.054},{"t":13.721,"v":0.075},{"t":13.731,"v":0.001},{"t":13.740,"v":-0.115},{"t":13.750,"v":-0.084},{"t":13.759,"v":-0.041},{"t":13.768,"v":0.033},{"t":13.778,"v":0.043},{"t":13.787,"v":0.086},{"t":13.797,"v":0.001},{"t":13.806,"v":-0.041},{"t":13.816,"v":-0.094},{"t":13.825,"v":0.043},{"t":13.835,"v":0.065},{"t":13.844,"v":0.022},{"t":13.853,"v":-0.052},{"t":13.863,"v":-0.073},{"t":13.872,"v":-0.031},{"t":13.882,"v":-0.084},{"t":13.891,"v":-0.105},{"t":13.901,"v":-0.041},{"t":13.910,"v":0.022},{"t":13.919,"v":0.043},{"t":13.929,"v":0.012},{"t":13.938,"v":-0.031},{"t":13.948,"v":0.091},{"t":13.957,"v":0.001},{"t":13.967,"v":-0.073},{"t":13.976,"v":-0.094},{"t":13.985,"v":-0.084},{"t":13.995,"v":-0.020},{"t":14.004,"v":0.043},{"t":14.014,"v":0.065},{"t":14.023,"v":0.012},{"t":14.033,"v":0.001},{"t":14.042,"v":-0.020},{"t":14.052,"v":-0.041},{"t":14.061,"v":-0.052},{"t":14.070,"v":-0.062},{"t":14.080,"v":0.012},{"t":14.089,"v":0.043},{"t":14.099,"v":-0.010},{"t":14.108,"v":-0.020},{"t":14.118,"v":-0.010},{"t":14.127,"v":0.096},{"t":14.136,"v":0.043},{"t":14.146,"v":0.033},{"t":14.155,"v":0.001},{"t":14.165,"v":0.043},{"t":14.174,"v":0.065},{"t":14.184,"v":0.033},{"t":14.193,"v":0.070},{"t":14.202,"v":0.033},{"t":14.212,"v":0.043},{"t":14.221,"v":0.033},{"t":14.231,"v":-0.010},{"t":14.240,"v":-0.137},{"t":14.250,"v":-0.094},{"t":14.259,"v":-0.084},{"t":14.268,"v":-0.020},{"t":14.278,"v":0.012},{"t":14.287,"v":0.054},{"t":14.297,"v":0.065},{"t":14.306,"v":0.043},{"t":14.316,"v":0.054},{"t":14.325,"v":0.043},{"t":14.335,"v":0.033},{"t":14.344,"v":0.001},{"t":14.353,"v":-0.020},{"t":14.363,"v":0.022},{"t":14.372,"v":0.001},{"t":14.382,"v":-0.010},{"t":14.391,"v":0.022},{"t":14.401,"v":0.012},{"t":14.410,"v":-0.041},{"t":14.419,"v":0.001},{"t":14.429,"v":0.022},{"t":14.438,"v":-0.052},{"t":14.448,"v":-0.062},{"t":14.457,"v":0.001},{"t":14.466,"v":0.033},{"t":14.476,"v":0.033},{"t":14.485,"v":0.022},{"t":14.495,"v":0.001},{"t":14.504,"v":-0.031},{"t":14.514,"v":-0.041},{"t":14.523,"v":0.012},{"t":14.533,"v":0.043},{"t":14.542,"v":0.054},{"t":14.551,"v":0.001},{"t":14.561,"v":-0.031},{"t":14.570,"v":-0.073},{"t":14.580,"v":-0.084},{"t":14.589,"v":0.001},{"t":14.599,"v":0.033},{"t":14.608,"v":-0.084},{"t":14.618,"v":-0.052},{"t":14.627,"v":0.054},{"t":14.637,"v":0.001},{"t":14.646,"v":-0.052},{"t":14.656,"v":0.054},{"t":14.665,"v":0.070}
]},
"layer": [
{
"mark": {"type": "line", "color": "#0000ff", "strokeWidth": 1, "interpolate": "linear"},
"encoding": {
"x": {"field": "t", "type": "quantitative", "scale": {"domain": [0, 15], "nice": false, "zero": false},
"axis": {"orient": "bottom", "title": "Time (sec)", "values": [0, 5, 10, 15], "format": "d", "labelFlush": false, "labelFontSize": 24, "labelFont": "Liberation Sans", "labelColor": "black", "labelPadding": 24, "ticks": true, "tickSize": -11, "tickColor": "black", "domainColor": "black", "grid": true, "gridColor": "#444444", "gridDash": [1, 2], "gridWidth": 1, "titleFontSize": 25, "titleFont": "Liberation Sans", "titleFontWeight": "normal", "titleColor": "black", "titlePadding": 8}},
"y": {"field": "v", "type": "quantitative", "scale": {"domain": [-0.8, 0.6], "nice": false, "zero": false},
"axis": {"orient": "left", "title": "m/s2", "values": [-0.8, -0.6, -0.4, -0.2, 0, 0.2, 0.4, 0.6], "labelExpr": "datum.value == 0 ? '0' : replace(format(datum.value, '.1f'), '\u2212', '-')", "labelFlush": false, "labelFontSize": 24, "labelFont": "Liberation Sans", "labelColor": "black", "labelPadding": 13, "ticks": true, "tickSize": -11, "tickColor": "black", "domainColor": "black", "grid": true, "gridColor": "#444444", "gridDash": [1, 2], "gridWidth": 1, "titleFontSize": 25, "titleFont": "Liberation Sans", "titleFontWeight": "normal", "titleColor": "black", "titlePadding": 27}}
}
},
{
"mark": {"type": "line", "strokeOpacity": 0},
"encoding": {
"x": {"field": "t", "type": "quantitative", "axis": {"orient": "top", "title": "THO ML accel HPF", "titleFontSize": 25, "titleFont": "Liberation Sans", "titleFontWeight": "normal", "titleColor": "black", "titleBaseline": "alphabetic", "titlePadding": 20, "values": [0, 5, 10, 15], "labels": false, "ticks": true, "tickSize": -11, "tickColor": "black", "domain": false, "grid": false}},
"y": {"field": "v", "type": "quantitative", "axis": {"orient": "right", "title": null, "values": [-0.8, -0.6, -0.4, -0.2, 0, 0.2, 0.4, 0.6], "labels": false, "ticks": true, "tickSize": -11, "tickColor": "black", "domain": false, "grid": false}}
}
}
],
"resolve": {"axis": {"x": "independent", "y": "independent"}}
}
